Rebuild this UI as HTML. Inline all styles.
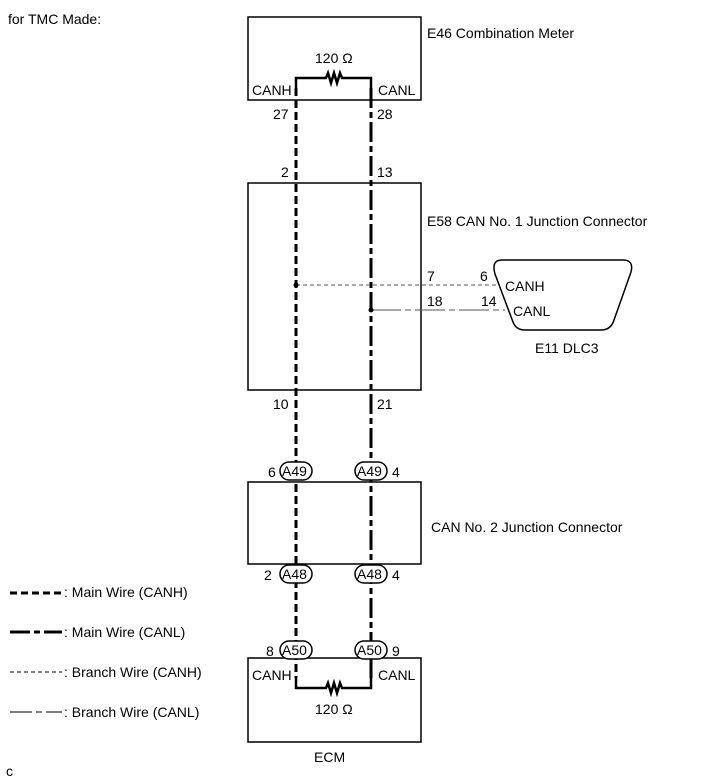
<!DOCTYPE html><html><head><style>body{margin:0;background:#fff}svg{display:block}text{font-family:"Liberation Sans",sans-serif;font-size:14px;fill:#000}</style></head><body>
<svg width="713" height="782" viewBox="0 0 713 782" xmlns="http://www.w3.org/2000/svg">
<text x="8" y="24">for TMC Made:</text>
<text x="6" y="776" font-size="11">c</text>
<g fill="none" stroke="#000" stroke-width="1.5">
<rect x="248" y="17" width="173" height="83"/>
<rect x="248" y="183" width="173" height="207"/>
<rect x="248" y="482" width="173" height="82"/>
<rect x="248" y="658" width="173" height="84"/>
</g>
<text x="427" y="38">E46 Combination Meter</text>
<text x="427" y="226">E58 CAN No. 1 Junction Connector</text>
<text x="431" y="532">CAN No. 2 Junction Connector</text>
<text x="314" y="762">ECM</text>
<g fill="none" stroke="#000" stroke-width="2.5">
<polyline points="296,88 296,78 326,78 328,73 331,83 334,73 337,83 340,73 342,78 371,78 371,88"/>
<polyline points="296,678 296,688 326,688 328,683 331,693 334,683 337,693 340,683 342,688 371,688 371,678"/>
</g>
<text x="315" y="63">120 Ω</text>
<text x="315" y="714">120 Ω</text>
<text x="252" y="95">CANH</text><text x="378" y="95">CANL</text>
<text x="252" y="680">CANH</text><text x="378" y="680">CANL</text>
<g fill="none" stroke="#000" stroke-width="3">
<line x1="296" y1="88" x2="296" y2="678" stroke-dasharray="8,4"/>
<line x1="371" y1="88" x2="371" y2="650" stroke-dasharray="20,4,6,4"/>
<line x1="371" y1="650" x2="371" y2="678"/>
</g>
<line x1="296" y1="285" x2="500" y2="285" stroke="#555" stroke-width="1" stroke-dasharray="4,3"/>
<line x1="371" y1="310" x2="505" y2="310" stroke="#555" stroke-width="1" stroke-dasharray="30,4,6,4"/>
<circle cx="296" cy="285" r="2.5"/><circle cx="371" cy="310" r="2.5"/>
<path d="M502,260 H623 Q634,260 631,272 L614,320 Q611,330 601,330 H525 Q516,330 513,322 L495,274 Q491,260 502,260 Z" fill="none" stroke="#000" stroke-width="1.5"/>
<text x="505" y="291">CANH</text><text x="513" y="316">CANL</text>
<text x="535" y="353">E11 DLC3</text>
<text x="427" y="281">7</text><text x="480" y="281">6</text>
<text x="427" y="306">18</text><text x="481" y="306">14</text>
<text x="273" y="119">27</text><text x="377" y="119">28</text>
<text x="281" y="177">2</text><text x="377" y="177">13</text>
<text x="273" y="409">10</text><text x="377" y="409">21</text>
<g fill="#fff" stroke="#000" stroke-width="1.5">
<rect x="280" y="462" width="32" height="18" rx="9"/><rect x="355" y="462" width="32" height="18" rx="9"/>
<rect x="280" y="565" width="32" height="18" rx="9"/><rect x="355" y="565" width="32" height="18" rx="9"/>
<rect x="280" y="641" width="32" height="18" rx="9"/><rect x="355" y="641" width="32" height="18" rx="9"/>
</g>
<g font-size="13"><text x="282" y="476">A49</text><text x="357" y="476">A49</text>
<text x="282" y="579">A48</text><text x="357" y="579">A48</text>
<text x="282" y="655">A50</text><text x="357" y="655">A50</text></g>
<text x="268" y="477">6</text><text x="392" y="477">4</text>
<text x="264" y="580">2</text><text x="392" y="580">4</text>
<text x="266" y="656">8</text><text x="392" y="656">9</text>
<line x1="10" y1="593" x2="62" y2="593" stroke="#000" stroke-width="3" stroke-dasharray="7,4"/>
<line x1="10" y1="632" x2="62" y2="632" stroke="#000" stroke-width="3" stroke-dasharray="20,4,6,4"/>
<line x1="10" y1="672" x2="62" y2="672" stroke="#000" stroke-width="1" stroke-dasharray="4,3"/>
<line x1="10" y1="712" x2="62" y2="712" stroke="#000" stroke-width="1" stroke-dasharray="22,4,6,4"/>
<text x="64" y="597">: Main Wire (CANH)</text>
<text x="64" y="637">: Main Wire (CANL)</text>
<text x="64" y="677">: Branch Wire (CANH)</text>
<text x="64" y="717">: Branch Wire (CANL)</text>
</svg></body></html>
